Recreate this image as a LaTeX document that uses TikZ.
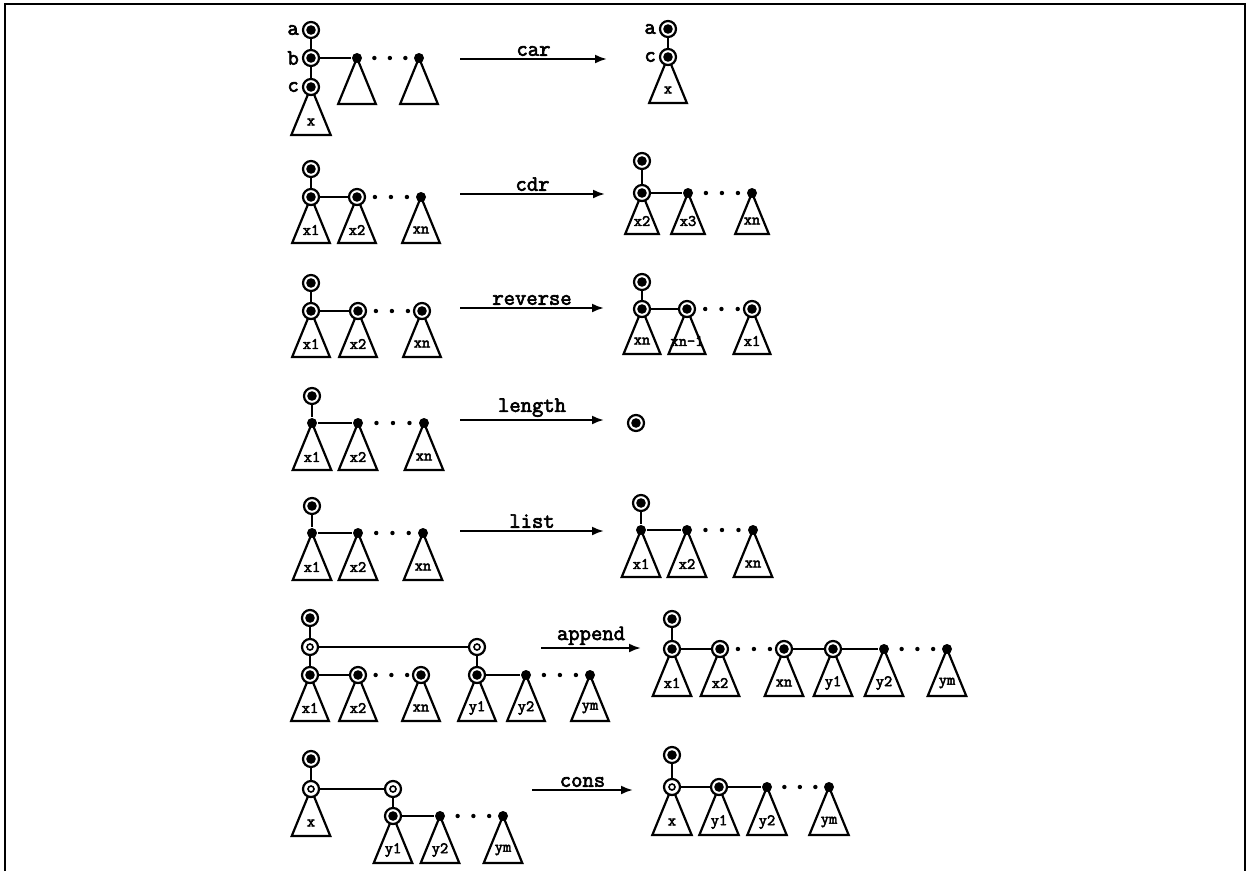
\documentclass[tikz,border=0pt]{standalone}
\usepackage{fontspec}
\newfontfamily\codefont{Latin Modern Mono}[FakeBold=3]
\usetikzlibrary{arrows.meta,positioning,calc,backgrounds}
\newcommand{\subtree}[3][46]{%
  \begin{scope}[on background layer]
    \draw[tri] (#2.center) -- ++({-0.41*#1},#1) -- ++({0.82*#1},0) -- cycle;
  \end{scope}
  \node[leaf] (#2l) at ($(#2.center)+(0,#1-13)$) {#3};
}
\newcommand{\skipdots}[2]{%
  \foreach \pp in {0.28,0.53,0.78} \fill ($(#1)!\pp!(#2)$) circle (2.2pt);
}
\begin{document}
\begin{tikzpicture}[x=1pt,y=-1pt,line width=2.2pt,
    rootcell/.style={circle,draw,fill=white,minimum size=16pt,inner sep=0pt,
      path picture={\fill[black] (path picture bounding box.center) circle (4.8pt);}},
    ringcell/.style={circle,draw,fill=white,minimum size=16pt,inner sep=0pt,
      path picture={\draw[black,line width=1.6pt] (path picture bounding box.center) circle (3pt);}},
    cell/.style={circle,fill,minimum size=10pt,inner sep=0pt},
    tri/.style={line width=2.2pt},
    leaf/.style={font=\codefont\fontsize{16}{16}\selectfont,inner sep=0pt},
    tag/.style={font=\codefont\fontsize{22}{22}\selectfont,inner sep=1pt},
    op/.style={-{Latex[length=12pt,width=9pt]}},
    oplab/.style={above,font=\codefont\fontsize{22}{22}\selectfont,inner sep=2pt}]
  \useasboundingbox (0,0) rectangle (1251,871);
  \draw[line width=1.8pt] (5,871) -- (5,4) -- (1245,4) -- (1245,871);

  % car
  \node[rootcell] (r1a) at (311,30) {};
  \node[rootcell] (r1b) at (311,58) {};
  \node[rootcell] (r1c) at (311,87) {};
  \node[cell] (r1t1) at (357,58) {};
  \node[cell] (r1t2) at (419,58) {};
  \node[tag,left=1pt of r1a] (r1al) {a};
  \node[tag,left=1pt of r1b] (r1bl) {b};
  \node[tag,left=1pt of r1c] (r1cl) {c};
  \draw (r1a) -- (r1b);
  \draw (r1b) -- (r1c);
  \draw (r1b) -- (r1t1);
  \skipdots{r1t1}{r1t2}
  \subtree[48]{r1c}{x}
  \subtree{r1t1}{}
  \subtree{r1t2}{}
  \coordinate (car0) at (460,59);
  \coordinate (car1) at (607,59);
  \draw[op] (car0) -- node[oplab] (carl) {car} (car1);
  \node[rootcell] (r1ra) at (668,29) {};
  \node[rootcell] (r1rc) at (668,57) {};
  \node[tag,left=1pt of r1ra] (r1ral) {a};
  \node[tag,left=1pt of r1rc] (r1rcl) {c};
  \draw (r1ra) -- (r1rc);
  \subtree{r1rc}{x}

  % cdr
  \node[rootcell] (r2a) at (311,169) {};
  \node[rootcell] (r2x1) at (311,197) {};
  \node[rootcell] (r2x2) at (357,197) {};
  \node[cell] (r2xn) at (421,197) {};
  \draw (r2a) -- (r2x1);
  \draw (r2x1) -- (r2x2);
  \skipdots{r2x2}{r2xn}
  \subtree{r2x1}{x1}
  \subtree{r2x2}{x2}
  \subtree{r2xn}{xn}
  \coordinate (cdr0) at (460,194);
  \coordinate (cdr1) at (605,194);
  \draw[op] (cdr0) -- node[oplab] (cdrl) {cdr} (cdr1);
  \node[rootcell] (r2ra) at (642,161) {};
  \node[rootcell] (r2rx2) at (642,193) {};
  \node[cell] (r2rx3) at (688,193) {};
  \node[cell] (r2rxn) at (752,193) {};
  \draw (r2ra) -- (r2rx2);
  \draw (r2rx2) -- (r2rx3);
  \skipdots{r2rx3}{r2rxn}
  \subtree[41]{r2rx2}{x2}
  \subtree[41]{r2rx3}{x3}
  \subtree[41]{r2rxn}{xn}

  % reverse
  \node[rootcell] (r3a) at (311,283) {};
  \node[rootcell] (r3x1) at (311,311) {};
  \node[rootcell] (r3x2) at (358,311) {};
  \node[rootcell] (r3xn) at (422,311) {};
  \draw (r3a) -- (r3x1);
  \draw (r3x1) -- (r3x2);
  \skipdots{r3x2}{r3xn}
  \subtree{r3x1}{x1}
  \subtree{r3x2}{x2}
  \subtree{r3xn}{xn}
  \coordinate (rev0) at (460,308);
  \coordinate (rev1) at (604,308);
  \draw[op] (rev0) -- node[oplab] (revl) {reverse} (rev1);
  \node[rootcell] (r3ra) at (642,282) {};
  \node[rootcell] (r3rxn) at (642,309) {};
  \node[rootcell] (r3rxm) at (687,309) {};
  \node[rootcell] (r3rx1) at (752,309) {};
  \draw (r3ra) -- (r3rxn);
  \draw (r3rxn) -- (r3rxm);
  \skipdots{r3rxm}{r3rx1}
  \subtree[45]{r3rxn}{xn}
  \subtree[45]{r3rxm}{xn-1}
  \subtree[45]{r3rx1}{x1}

  % length
  \node[rootcell] (r4a) at (312,396) {};
  \node[cell] (r4x1) at (312,423) {};
  \node[cell] (r4x2) at (358,423) {};
  \node[cell] (r4xn) at (424,423) {};
  \draw (r4a) -- (r4x1);
  \draw (r4x1) -- (r4x2);
  \skipdots{r4x2}{r4xn}
  \subtree[47]{r4x1}{x1}
  \subtree[47]{r4x2}{x2}
  \subtree[47]{r4xn}{xn}
  \coordinate (len0) at (460,420);
  \coordinate (len1) at (604,420);
  \draw[op] (len0) -- node[oplab] (lenl) {length} (len1);
  \node[rootcell] (r4ra) at (636,423) {};

  % list
  \node[rootcell] (r5a) at (312,506) {};
  \node[cell] (r5x1) at (312,533) {};
  \node[cell] (r5x2) at (358,533) {};
  \node[cell] (r5xn) at (423,533) {};
  \draw (r5a) -- (r5x1);
  \draw (r5x1) -- (r5x2);
  \skipdots{r5x2}{r5xn}
  \subtree[47]{r5x1}{x1}
  \subtree[47]{r5x2}{x2}
  \subtree[47]{r5xn}{xn}
  \coordinate (lst0) at (460,531);
  \coordinate (lst1) at (604,531);
  \draw[op] (lst0) -- node[oplab] (lstl) {list} (lst1);
  \node[rootcell] (r5ra) at (641,503) {};
  \node[cell] (r5rx1) at (641,530) {};
  \node[cell] (r5rx2) at (687,530) {};
  \node[cell] (r5rxn) at (753,530) {};
  \draw (r5ra) -- (r5rx1);
  \draw (r5rx1) -- (r5rx2);
  \skipdots{r5rx2}{r5rxn}
  \subtree[47]{r5rx1}{x1}
  \subtree[47]{r5rx2}{x2}
  \subtree[47]{r5rxn}{xn}

  % append
  \node[rootcell] (r6a) at (310,618) {};
  \node[ringcell] (r6h1) at (310,647) {};
  \node[ringcell] (r6h2) at (477,647) {};
  \node[rootcell] (r6x1) at (310,675) {};
  \node[rootcell] (r6x2) at (358,675) {};
  \node[rootcell] (r6xn) at (421,675) {};
  \node[rootcell] (r6y1) at (477,675) {};
  \node[cell] (r6y2) at (526,675) {};
  \node[cell] (r6ym) at (590,675) {};
  \draw (r6a) -- (r6h1);
  \draw (r6h1) -- (r6h2);
  \draw (r6h1) -- (r6x1);
  \draw (r6h2) -- (r6y1);
  \draw (r6x1) -- (r6x2);
  \draw (r6y1) -- (r6y2);
  \skipdots{r6x2}{r6xn}
  \skipdots{r6y2}{r6ym}
  \subtree{r6x1}{x1}
  \subtree{r6x2}{x2}
  \subtree{r6xn}{xn}
  \subtree{r6y1}{y1}
  \subtree{r6y2}{y2}
  \subtree{r6ym}{ym}
  \coordinate (app0) at (541,648);
  \coordinate (app1) at (641,648);
  \draw[op] (app0) -- node[oplab] (appl) {append} (app1);
  \node[rootcell] (r6ra) at (672,619) {};
  \node[rootcell] (r6rx1) at (672,649) {};
  \node[rootcell] (r6rx2) at (720,649) {};
  \node[rootcell] (r6rxn) at (784,649) {};
  \node[rootcell] (r6ry1) at (833,649) {};
  \node[cell] (r6ry2) at (884,649) {};
  \node[cell] (r6rym) at (947,649) {};
  \draw (r6ra) -- (r6rx1);
  \draw (r6rx1) -- (r6rx2);
  \draw (r6rxn) -- (r6ry1);
  \draw (r6ry1) -- (r6ry2);
  \skipdots{r6rx2}{r6rxn}
  \skipdots{r6ry2}{r6rym}
  \subtree[47]{r6rx1}{x1}
  \subtree[47]{r6rx2}{x2}
  \subtree[47]{r6rxn}{xn}
  \subtree[47]{r6ry1}{y1}
  \subtree[47]{r6ry2}{y2}
  \subtree[47]{r6rym}{ym}

  % cons
  \node[rootcell] (r7a) at (311,759) {};
  \node[ringcell] (r7h1) at (311,789) {};
  \node[ringcell] (r7h2) at (393,789) {};
  \node[rootcell] (r7y1) at (393,816) {};
  \node[cell] (r7y2) at (440,816) {};
  \node[cell] (r7ym) at (503,816) {};
  \draw (r7a) -- (r7h1);
  \draw (r7h1) -- (r7h2);
  \draw (r7h2) -- (r7y1);
  \draw (r7y1) -- (r7y2);
  \skipdots{r7y2}{r7ym}
  \subtree[47]{r7h1}{x}
  \subtree[47]{r7y1}{y1}
  \subtree[47]{r7y2}{y2}
  \subtree[47]{r7ym}{ym}
  \coordinate (con0) at (532,790);
  \coordinate (con1) at (633,790);
  \draw[op] (con0) -- node[oplab] (conl) {cons} (con1);
  \node[rootcell] (r7ra) at (672,755) {};
  \node[ringcell] (r7rx) at (672,787) {};
  \node[rootcell] (r7ry1) at (719,787) {};
  \node[cell] (r7ry2) at (767,787) {};
  \node[cell] (r7rym) at (829,787) {};
  \draw (r7ra) -- (r7rx);
  \draw (r7rx) -- (r7ry1);
  \draw (r7ry1) -- (r7ry2);
  \skipdots{r7ry2}{r7rym}
  \subtree[48]{r7rx}{x}
  \subtree[48]{r7ry1}{y1}
  \subtree[48]{r7ry2}{y2}
  \subtree[48]{r7rym}{ym}
\end{tikzpicture}
\end{document}
